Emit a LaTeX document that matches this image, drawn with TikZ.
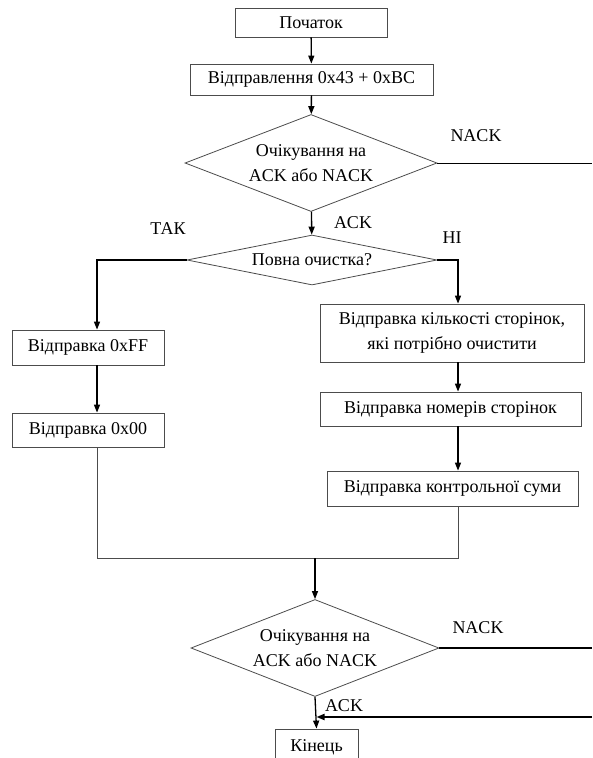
\documentclass[tikz,border=0pt]{standalone}
\usepackage{fontspec}
\setmainfont{Liberation Serif}
\newfontfamily\flowfont{Liberation Serif}
\usetikzlibrary{shapes.geometric,arrows.meta}

\begin{document}
\begin{tikzpicture}[x=1pt, y=-1pt, >={Triangle[length=8pt,width=6pt]},
	font=\flowfont\fontsize{18}{25}\selectfont,
	box/.style={draw=black!70, line width=0.8pt, rectangle, inner sep=0pt, align=center},
	cond/.style={draw=black!70, line width=0.8pt, diamond, inner sep=0pt, align=center},
	flow/.style={->, line width=1.3pt},
	link/.style={draw=black!70, line width=0.8pt}]

	\clip (0,0) rectangle (592,758);

	%% Start and first request
	\node[box, minimum width=152pt, minimum height=29pt] (start) at (311,22.5) {Початок};
	\node[box, minimum width=243pt, minimum height=31pt] (send) at (311.5,79.5) {Відправлення 0x43 + 0xBC};
	\node[cond, aspect=2.6, minimum width=252pt, minimum height=97pt] (wait1) at (311,163) {Очікування на\\ACK або NACK};
	\draw [flow] (start) -- (send);
	\draw [flow] (send) -- (wait1);

	\coordinate (nack1) at (592,163);
	\draw [link, draw=black] (wait1.east) -- (nack1);
	\node (nack1_lbl) at (476,136) {NACK};

	%% Erase mode
	\node[cond, aspect=5, minimum width=250pt, minimum height=50pt] (full) at (312,260) {Повна очистка?};
	\draw [flow] (wait1) -- (full);
	\node (ack1_lbl) at (353,223) {ACK};

	%% Left branch
	\coordinate (tak) at (97,260);
	\node[box, minimum width=152pt, minimum height=35pt] (ff) at (88,347.5) {Відправка 0xFF};
	\node[box, minimum width=152pt, minimum height=34pt] (zero) at (88,430) {Відправка 0x00};
	\draw [flow] (full.west) -- (tak) -- (tak |- ff.north);
	\draw [flow] (ff.south -| tak) -- (zero.north -| tak);
	\node (tak_lbl) at (168,229) {ТАК};

	%% Right branch
	\coordinate (ni) at (458,260);
	\node[box, minimum width=264pt, minimum height=58pt] (count) at (452,333) {Відправка кількості сторінок,\\які потрібно очистити};
	\node[box, minimum width=261pt, minimum height=34pt] (pages) at (450.5,409) {Відправка номерів сторінок};
	\node[box, minimum width=251pt, minimum height=35pt] (crc) at (452.5,488.5) {Відправка контрольної суми};
	\draw [flow] (full.east) -- (ni) -- (ni |- count.north);
	\draw [flow] (count.south -| ni) -- (pages.north -| ni);
	\draw [flow] (pages.south -| ni) -- (crc.north -| ni);
	\node (ni_lbl) at (452,238) {НІ};

	%% Join
	\coordinate (join_l) at (97,558);
	\coordinate (join_r) at (458,558);
	\coordinate (join_m) at (315,558);
	\draw [link] (crc.south -| join_r) -- (join_r) -- (join_l) -- (zero.south -| join_l);

	%% Second wait and end
	\node[cond, aspect=2.6, minimum width=248pt, minimum height=97pt] (wait2) at (315,648) {Очікування на\\ACK або NACK};
	\draw [flow] (join_m) -- (join_m |- wait2.north);

	\coordinate (nack2) at (592,648);
	\draw [line width=1.8pt] (wait2.east) -- (nack2);
	\node (nack2_lbl) at (478,628) {NACK};

	\node[box, minimum width=83pt, minimum height=36pt] (end) at (316.5,747) {Кінець};
	\draw [flow] (wait2.south) -- (end.north);
	\node (ack2_lbl) at (344,706) {ACK};

	\coordinate (back) at (592,717);
	\draw [flow, line width=1.8pt] (back) -- (back -| end.north);

\end{tikzpicture}
\end{document}
